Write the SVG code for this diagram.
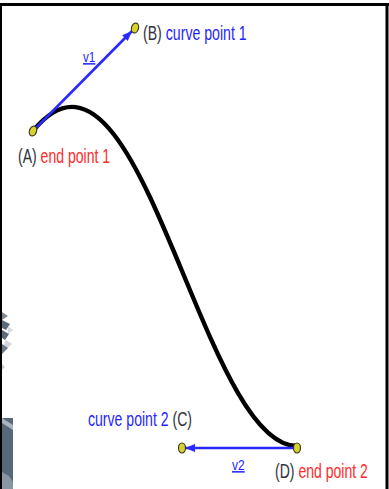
<svg xmlns="http://www.w3.org/2000/svg" width="389" height="489" viewBox="0 0 389 489">
<style>
.lbl{font-family:"Liberation Sans",Arial,sans-serif;font-size:19.5px}
.letter{fill:#33333d}
.blue{fill:#1f1fff}
.red{fill:#ff2a2a}
.vec{stroke:#2a2aff;stroke-width:2.6;fill:none}
.pt{fill:#d6d42c;stroke:#3a3a20;stroke-width:1.2}
.v{font-family:"Liberation Sans",Arial,sans-serif;font-size:15px;fill:#1f1fff;text-decoration:underline}
</style>
<defs>
<marker id="arr" markerUnits="userSpaceOnUse" markerWidth="10" markerHeight="8" refX="10" refY="4" orient="auto">
<path d="M0,0 L10,4 L0,8 z" fill="#2a2aff"/>
</marker>
</defs>
<rect x="0" y="0" width="389" height="489" fill="#ffffff"/>
<g id="frame">
<rect x="0" y="3" width="389" height="3" fill="#000"/>
<rect x="0" y="3" width="2" height="486" fill="#000"/>
<rect x="385.5" y="3" width="3" height="486" fill="#000"/>
</g>
<g id="decor">
<polygon points="2,312 8,316 2,320" fill="#7d8a96"/>
<polygon points="2,320 10,324 6,330 2,328" fill="#5d6b78"/>
<polygon points="8,326 13,330 8,334" fill="#d6dbe0"/>
<polygon points="2,330 9,334 5,340 2,338" fill="#5d6b78"/>
<polygon points="6,340 12,344 6,349 3,346" fill="#d0d6dc"/>
<polygon points="2,344 8,348 2,354" fill="#6c7a86"/>
<polygon points="2,364 5,367 2,370" fill="#c8cfd6"/>
<rect x="2" y="418" width="11" height="71" fill="#56687a"/>
<polygon points="2,418 13,425 13,430 2,423" fill="#aab4bd"/>
<polygon points="2,472 9,476 13,482 13,489 2,489" fill="#8995a1"/>
</g>
<g id="connectors">
<path id="curve" d="M33,131 C140,0 200,446 297,446" fill="none" stroke="#000" stroke-width="4.4" stroke-linecap="round"/>
<line id="v1-line" class="vec" x1="33" y1="131" x2="132" y2="31" marker-end="url(#arr)"/>
<line id="v2-line" class="vec" x1="297" y1="448" x2="185" y2="448" marker-end="url(#arr)"/>
</g>
<g id="nodeA">
<ellipse class="pt" cx="33" cy="131" rx="3.5" ry="5" transform="rotate(20 33 131)"/>
<text class="lbl" transform="translate(18 163) scale(0.72 1)"><tspan class="letter">(A)</tspan> <tspan class="red">end point 1</tspan></text>
</g>
<g id="nodeB">
<ellipse class="pt" cx="135" cy="28" rx="3.5" ry="5" transform="rotate(15 135 28)"/>
<text class="lbl" transform="translate(143 40) scale(0.725 1)"><tspan class="letter">(B)</tspan> <tspan class="blue">curve point 1</tspan></text>
</g>
<g id="nodeC">
<ellipse class="pt" cx="182" cy="448" rx="3.5" ry="5"/>
<text class="lbl" transform="translate(88 426) scale(0.722 1)"><tspan class="blue">curve point 2</tspan> <tspan class="letter">(C)</tspan></text>
</g>
<g id="nodeD">
<ellipse class="pt" cx="297" cy="448" rx="3.5" ry="5"/>
<text class="lbl" transform="translate(275 478) scale(0.72 1)"><tspan class="letter">(D)</tspan> <tspan class="red">end point 2</tspan></text>
</g>
<g id="labels">
<text class="v" transform="translate(83 62) scale(0.78 1)">v1</text>
<text class="v" transform="translate(232 470) scale(0.8 1)">v2</text>
</g>
</svg>
